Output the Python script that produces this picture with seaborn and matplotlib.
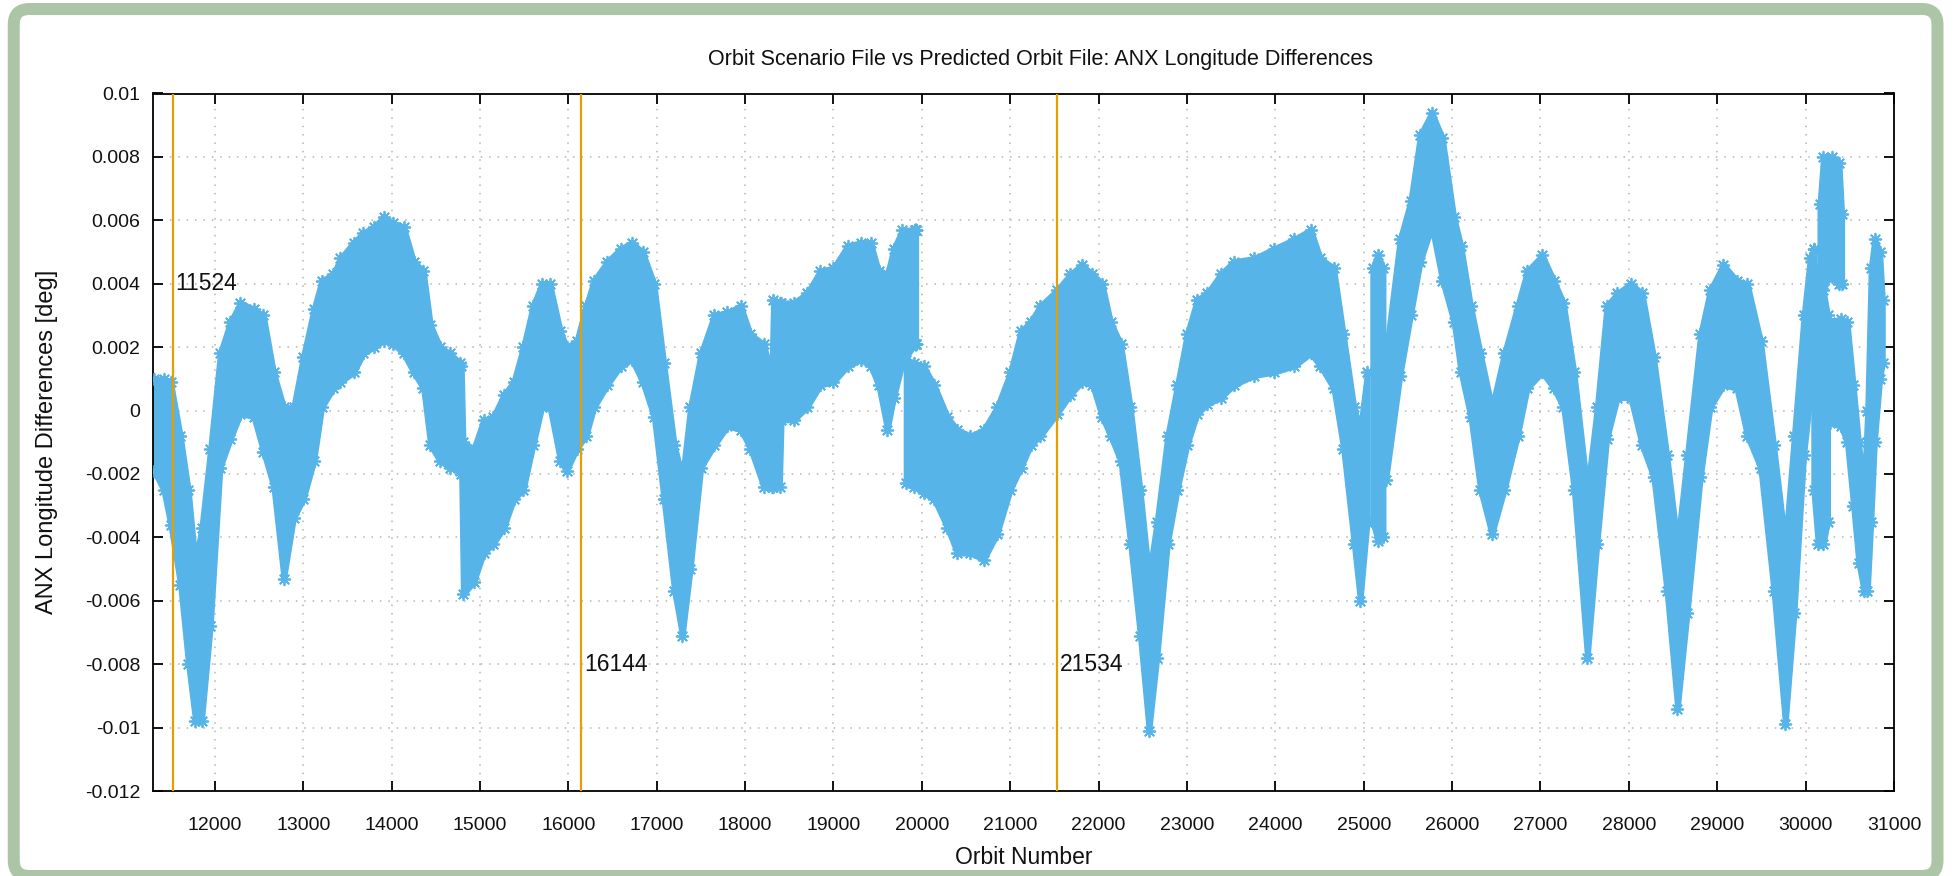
import numpy as np
import pandas as pd
import matplotlib
matplotlib.use("Agg")
import matplotlib.pyplot as plt
from matplotlib.patches import FancyBboxPatch
import seaborn as sns

# ---------------- data (envelope of the plotted point cloud) ----------
segment = (["A"] * 88 + ["B"] * 41 + ["C"] * 3 + ["D"] * 41 + ["E"] * 4 + ["F"] * 5 + ["G"] * 11)

orbit = [
    # A
    11310, 11420, 11500, 11610, 11700, 11780, 11850, 11950, 12060, 12175,
    12290, 12440, 12550, 12665, 12780, 12890, 13000, 13120, 13210, 13340,
    13420, 13570, 13680, 13800, 13910, 14020, 14135, 14250, 14360, 14440,
    14550, 14660, 14775, 14790, 14810, 14930, 15040, 15150, 15270, 15380,
    15490, 15600, 15700, 15790, 15910, 15980, 16095, 16200, 16290, 16440,
    16590, 16720, 16840, 16970, 17080, 17200, 17290, 17380, 17500, 17650,
    17800, 17950, 18060, 18210, 18300, 18320, 18390, 18410, 18550, 18700,
    18850, 19000, 19160, 19310, 19420, 19510, 19610, 19680, 19780, 19920,
    19925, 19926, 19927, 19928, 19929, 19930, 19931, 19932,
    # B
    19820, 19910, 20020, 20140, 20290, 20400, 20550, 20700, 20850, 21000,
    21120, 21230, 21340, 21530, 21680, 21810, 21930, 22040, 22135, 22250,
    22360, 22470, 22570, 22660, 22780, 22890, 23000, 23115, 23230, 23380,
    23530, 23760, 23980, 24210, 24400, 24510, 24660, 24770, 24890, 24960,
    25040,
    # C
    25100, 25160, 25220,
    # D
    25250, 25410, 25530, 25640, 25770, 25890, 26020, 26100, 26210, 26320,
    26450, 26590, 26740, 26850, 27020, 27150, 27260, 27380, 27530, 27640,
    27750, 27870, 28020, 28150, 28280, 28430, 28550, 28660, 28810, 28920,
    29070, 29220, 29340, 29490, 29640, 29770, 29870, 29980, 30050, 30090,
    30100,
    # E
    30090, 30140, 30200, 30250,
    # F
    30160, 30200, 30300, 30380, 30410,
    # G
    30280, 30400, 30470, 30540, 30600, 30660, 30700, 30740, 30780, 30840, 30870,
]

upper = [
    # A
    0.0010, 0.0010, 0.0009, -0.0008, -0.0025, -0.0048, -0.0037, -0.0012, 0.0018, 0.0028,
    0.0034, 0.0032, 0.0030, 0.0012, 0.0001, 0.0001, 0.0017, 0.0032, 0.0041, 0.0043,
    0.0048, 0.0053, 0.0056, 0.0058, 0.0061, 0.0059, 0.0058, 0.0047, 0.0044, 0.0027,
    0.0020, 0.0018, 0.0015, 0.0014, -0.0010, -0.0012, -0.0003, -0.0002, 0.0005, 0.0009,
    0.0020, 0.0033, 0.0040, 0.0040, 0.0025, 0.0020, 0.0022, 0.0033, 0.0041, 0.0047,
    0.0051, 0.0053, 0.0050, 0.0040, 0.0015, -0.0011, -0.0021, 0.0001, 0.0018, 0.0030,
    0.0031, 0.0033, 0.0024, 0.0021, 0.0011, 0.0035, 0.0034, 0.0034, 0.0034, 0.0037,
    0.0044, 0.0045, 0.0052, 0.0053, 0.0053, 0.0044, 0.0043, 0.0051, 0.0057, 0.0057,
    0.0057, 0.0057, 0.0057, 0.0057, 0.0057, 0.0057, 0.0057, 0.0057,
    # B
    0.0016, 0.0015, 0.0014, 0.0008, -0.0002, -0.0006, -0.0008, -0.0006, 0.0001, 0.0012,
    0.0025, 0.0028, 0.0033, 0.0038, 0.0043, 0.0046, 0.0043, 0.0040, 0.0028, 0.0021,
    0.0001, -0.0025, -0.0052, -0.0035, -0.0008, 0.0008, 0.0024, 0.0035, 0.0037, 0.0043,
    0.0047, 0.0048, 0.0051, 0.0054, 0.0057, 0.0048, 0.0045, 0.0024, 0.0001, -0.0006,
    0.0012,
    # C
    0.0045, 0.0049, 0.0045,
    # D
    0.0018, 0.0054, 0.0066, 0.0087, 0.0094, 0.0086, 0.0061, 0.0052, 0.0033, 0.0018,
    0.0001, 0.0018, 0.0033, 0.0044, 0.0049, 0.0041, 0.0034, 0.0012, -0.0025, 0.0001,
    0.0033, 0.0037, 0.0040, 0.0037, 0.0017, -0.0014, -0.0042, -0.0014, 0.0024, 0.0038,
    0.0046, 0.0041, 0.0040, 0.0022, -0.0011, -0.0042, -0.0008, 0.0030, 0.0048, 0.0051,
    0.0051,
    # E
    0.0045, 0.0042, 0.0038, 0.0030,
    # F
    0.0065, 0.0080, 0.0080, 0.0078, 0.0062,
    # G
    0.0028, 0.0029, 0.0028, 0.0008, -0.0010, -0.0025, 0.0000, 0.0045, 0.0054, 0.0050, 0.0035,
]

lower = [
    # A
    -0.0019, -0.0025, -0.0036, -0.0055, -0.0080, -0.0098, -0.0098, -0.0068, -0.0018, -0.0009,
    -0.0001, -0.0002, -0.0013, -0.0024, -0.0053, -0.0034, -0.0028, -0.0016, 0.0001, 0.0007,
    0.0009, 0.0012, 0.0018, 0.0020, 0.0022, 0.0021, 0.0018, 0.0012, 0.0007, -0.0011,
    -0.0016, -0.0018, -0.0019, -0.0020, -0.0058, -0.0054, -0.0045, -0.0042, -0.0037, -0.0028,
    -0.0025, -0.0011, 0.0001, 0.0001, -0.0016, -0.0019, -0.0012, -0.0008, 0.0001, 0.0008,
    0.0014, 0.0016, 0.0009, -0.0002, -0.0028, -0.0057, -0.0071, -0.0050, -0.0018, -0.0011,
    -0.0005, -0.0006, -0.0012, -0.0024, -0.0024, -0.0024, -0.0024, -0.0003, -0.0003, 0.0001,
    0.0008, 0.0009, 0.0014, 0.0016, 0.0014, 0.0008, -0.0006, 0.0004, 0.0015, 0.0021,
    0.0021, 0.0021, 0.0021, 0.0021, 0.0021, 0.0021, 0.0021, 0.0021,
    # B
    -0.0023, -0.0024, -0.0026, -0.0028, -0.0037, -0.0045, -0.0045, -0.0047, -0.0039, -0.0025,
    -0.0018, -0.0011, -0.0008, -0.0001, 0.0005, 0.0009, 0.0008, -0.0002, -0.0008, -0.0016,
    -0.0042, -0.0071, -0.0101, -0.0078, -0.0042, -0.0025, -0.0011, -0.0001, 0.0002, 0.0004,
    0.0008, 0.0011, 0.0012, 0.0014, 0.0018, 0.0014, 0.0007, -0.0012, -0.0042, -0.0060,
    -0.0035,
    # C
    -0.0035, -0.0041, -0.0040,
    # D
    -0.0022, 0.0011, 0.0030, 0.0047, 0.0058, 0.0041, 0.0028, 0.0012, -0.0002, -0.0025,
    -0.0039, -0.0025, -0.0008, 0.0007, 0.0012, 0.0007, 0.0001, -0.0025, -0.0078, -0.0042,
    -0.0009, 0.0004, 0.0004, -0.0011, -0.0021, -0.0057, -0.0094, -0.0064, -0.0021, 0.0001,
    0.0008, 0.0007, -0.0008, -0.0018, -0.0057, -0.0099, -0.0064, -0.0014, 0.0004, 0.0012,
    0.0012,
    # E
    -0.0025, -0.0042, -0.0042, -0.0035,
    # F
    0.0038, 0.0040, 0.0042, 0.0040, 0.0040,
    # G
    -0.0004, -0.0005, -0.0010, -0.0030, -0.0048, -0.0057, -0.0057, -0.0035, -0.0010, 0.0010, 0.0015,
]

marker_orbits = [11524, 16144, 21534]
marker_labels = ["11524", "16144", "21534"]
marker_label_y = [0.004, -0.008, -0.008]

x_ticks = list(range(12000, 31001, 1000))
x_tick_labels = [str(t) for t in x_ticks]
y_ticks = [0.01, 0.008, 0.006, 0.004, 0.002, 0.0, -0.002, -0.004, -0.006, -0.008, -0.01, -0.012]
y_tick_labels = ["0.01", "0.008", "0.006", "0.004", "0.002", "0", "-0.002", "-0.004",
                 "-0.006", "-0.008", "-0.01", "-0.012"]

title = "Orbit Scenario File vs Predicted Orbit File: ANX Longitude Differences"
x_label = "Orbit Number"
y_label = "ANX Longitude Differences [deg]"

# ---------------- figure ----------------
sns.set_theme(style="white")
plt.rcParams["font.family"] = ["Liberation Sans", "DejaVu Sans"]

W, H = 1954, 876
fig = plt.figure(figsize=(W / 100, H / 100), dpi=100)
fig.patch.set_facecolor("white")

BLUE = "#56B4E9"
ORANGE = "#E69F00"
TXT = "#111111"

left_px, right_px, top_px, bottom_px = 153, 1894, 93.5, 791
ax = fig.add_axes([left_px / W, 1 - bottom_px / H, (right_px - left_px) / W, (bottom_px - top_px) / H])

df = pd.DataFrame({"segment": segment, "orbit": orbit, "upper": upper, "lower": lower})

for seg, g in df.groupby("segment", sort=False):
    ax.fill_between(g["orbit"], g["lower"], g["upper"], color=BLUE, lw=4,
                    edgecolor=BLUE, zorder=2)

edges = pd.concat([
    df[["orbit", "upper"]].rename(columns={"upper": "value"}),
    df[["orbit", "lower"]].rename(columns={"lower": "value"}),
])
sns.scatterplot(data=edges, x="orbit", y="value", ax=ax, color=BLUE, marker=(8, 2, 0),
                s=70, linewidth=1.3, legend=False, zorder=3)

for xo, lab, ly in zip(marker_orbits, marker_labels, marker_label_y):
    ax.axvline(xo, color=ORANGE, lw=1.6, zorder=4)
    ax.annotate(lab, xy=(xo, ly), xytext=(2, 0), textcoords="offset points",
                ha="left", va="center", fontsize=16.5, color=TXT, zorder=5)

ax.set_xlim(11300, 31000)
ax.set_ylim(-0.012, 0.01)
ax.set_xticks(x_ticks)
ax.set_xticklabels(x_tick_labels)
ax.set_yticks(y_ticks)
ax.set_yticklabels(y_tick_labels)
ax.set_xlabel("")
ax.set_ylabel("")

ax.grid(True, color="#b4b4b4", linestyle=(0, (1, 4.5)), linewidth=1.1, zorder=0)
ax.set_axisbelow(True)
for sp in ax.spines.values():
    sp.set_visible(True)
    sp.set_color("black")
    sp.set_linewidth(1.3)
ax.tick_params(axis="both", which="major", direction="in", length=7, width=1.3,
               color="black", labelsize=14, labelcolor=TXT,
               top=True, right=True, bottom=True, left=True)
ax.tick_params(axis="x", pad=19)
ax.tick_params(axis="y", pad=9)

fig.text(1040 / W, 1 - 60 / H, title, ha="center", va="center",
         fontsize=15.5, color=TXT)
fig.text((left_px + right_px) / 2 / W, 1 - 858 / H, x_label, ha="center", va="center",
         fontsize=16.5, color=TXT)
fig.text(47 / W, 1 - (top_px + bottom_px) / 2 / H, y_label, ha="center", va="center",
         rotation=90, fontsize=17, color=TXT)

# green rounded frame
frame = FancyBboxPatch((13.75 / W, 1 - 876 / H), (1937.5 - 13.75) / W, (876 - 9) / H,
                       boxstyle="round,pad=0,rounding_size=0.008",
                       transform=fig.transFigure, facecolor="none",
                       edgecolor="#adc5a7", linewidth=12 * 0.72, zorder=10,
                       mutation_aspect=W / H)
fig.patches.append(frame)

fig.savefig("out.png", dpi=100, facecolor="white")
